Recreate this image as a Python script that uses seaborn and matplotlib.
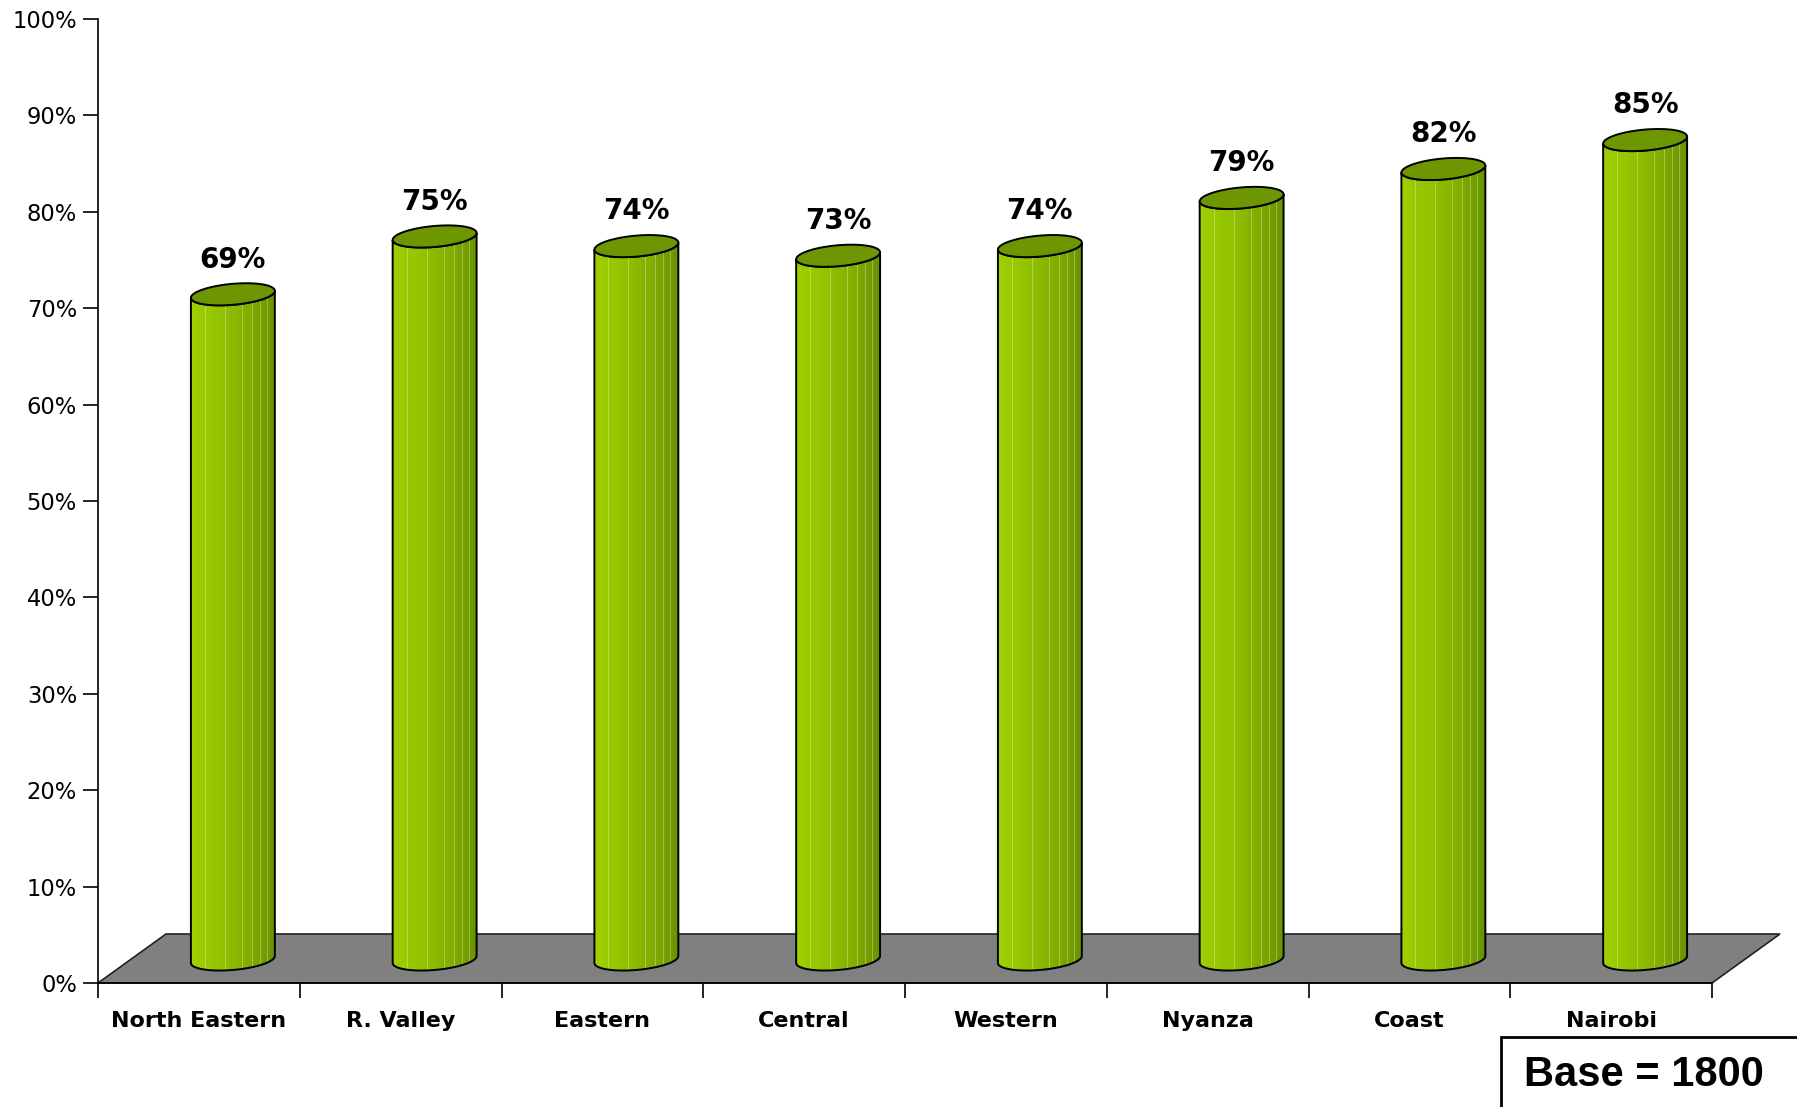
import numpy as np
import pandas as pd
import matplotlib
matplotlib.use("Agg")
import matplotlib.pyplot as plt
import seaborn as sns
from matplotlib.patches import Polygon, Rectangle
from matplotlib.colors import to_rgb

# ---- data ----
regions = ["North Eastern", "R. Valley", "Eastern", "Central", "Western",
           "Nyanza", "Coast", "Nairobi"]
values = [69, 75, 74, 73, 74, 79, 82, 85]
y_ticks = [0, 10, 20, 30, 40, 50, 60, 70, 80, 90, 100]
base_note = "Base = 1800"

sns.set_theme(style="white")
plt.rcParams['font.family'] = ['DejaVu Sans']

W, H = 1797, 1107
fig = plt.figure(figsize=(W / 100, H / 100), dpi=100)
ax_l, ax_r, ax_t, ax_b = 98, 1712, 19, 983
ax = fig.add_axes([ax_l / W, 1 - ax_b / H, (ax_r - ax_l) / W, (ax_b - ax_t) / H])

df = pd.DataFrame({"region": regions, "value": values})
sns.barplot(data=df, x="region", y="value", order=regions, width=0.416,
            color="#8fbf00", errorbar=None, ax=ax)

n = len(regions)
px_x = (ax_r - ax_l) / n      # pixels per category unit
px_y = (ax_b - ax_t) / 100.0  # pixels per percent
depth_dx = 68 / px_x
depth_dy = 49 / px_y

# floor
floor = Polygon([(-0.5, 0), (n - 0.5, 0), (n - 0.5 + depth_dx, depth_dy),
                 (-0.5 + depth_dx, depth_dy)], closed=True,
                facecolor="#808080", edgecolor="#222222", lw=1.2,
                clip_on=False, zorder=1)
ax.add_patch(floor)

# gradient for cylinder sides
ncol = 84
stops = [(0.0, to_rgb("#9fd000")), (0.35, to_rgb("#93c300")),
         (0.7, to_rgb("#82ad00")), (1.0, to_rgb("#689300"))]
grad = np.zeros((1, ncol, 3))
for i in range(ncol):
    f = i / (ncol - 1)
    for (f0, c0), (f1, c1) in zip(stops[:-1], stops[1:]):
        if f0 <= f <= f1:
            u = (f - f0) / (f1 - f0)
            grad[0, i] = np.array(c0) * (1 - u) + np.array(c1) * u
            break
for f in [0.18, 0.42, 0.62, 0.74, 0.84, 0.92]:
    i = int(f * (ncol - 1))
    grad[0, i] = grad[0, i] * 0.7 + 0.3

b_px, k_px = 10.5, 3.5
bb = b_px / px_y
kk = k_px / px_y

bars = [p for p in ax.patches if isinstance(p, Rectangle)]
for p, v in zip(bars, values):
    x0, w, h = p.get_x(), p.get_width(), p.get_height()
    p.set_visible(False)
    a = w / 2
    cx = x0 + a + depth_dx / 2
    base = depth_dy / 2 - 0.1
    top = base + h

    t_low = np.linspace(np.pi, 2 * np.pi, 40)
    bx = cx + a * np.cos(t_low)
    by = base + bb * np.sin(t_low) + kk * np.cos(t_low)
    t_top = np.linspace(2 * np.pi, np.pi, 40)
    tx = cx + a * np.cos(t_top)
    ty = top + bb * np.sin(t_top) + kk * np.cos(t_top)
    side = Polygon(np.column_stack([np.r_[bx, tx], np.r_[by, ty]]), closed=True,
                   facecolor="none", edgecolor="black", lw=1.4, zorder=4)
    ax.add_patch(side)
    im = ax.imshow(grad, extent=[cx - a, cx + a, base - 2, top + 2],
                   aspect="auto", interpolation="nearest", zorder=3)
    im.set_clip_path(side)

    t_all = np.linspace(0, 2 * np.pi, 80)
    ex = cx + a * np.cos(t_all)
    ey = top + bb * np.sin(t_all) + kk * np.cos(t_all)
    topface = Polygon(np.column_stack([ex, ey]), closed=True,
                      facecolor="#6e9600", edgecolor="black", lw=1.4, zorder=5)
    ax.add_patch(topface)

    ax.text(cx, top + 3.6, f"{v}%", ha="center", va="center",
            fontsize=20, fontweight="bold", color="black", zorder=6)

ax.set_xlim(-0.5, n - 0.5)
ax.set_ylim(0, 100)
ax.set_xlabel("")
ax.set_ylabel("")

for s in ["top", "right"]:
    ax.spines[s].set_visible(False)
for s in ["left", "bottom"]:
    ax.spines[s].set_color("black")
    ax.spines[s].set_linewidth(1.2)

ax.set_yticks(y_ticks)
ax.set_yticklabels([f"{t}%" for t in y_ticks])
ax.tick_params(axis="y", left=True, length=10.8, width=1.2, color="black",
               direction="out", pad=4.3, labelsize=16.3, labelcolor="black")

ax.set_xticks(np.arange(-0.5, n, 1))
ax.set_xticklabels([""] * (n + 1))
ax.set_xticks(np.arange(n), minor=True)
ax.set_xticklabels(regions, minor=True, fontweight="bold")
ax.tick_params(axis="x", which="major", bottom=True, length=10.8, width=1.2,
               color="black", direction="out")
ax.tick_params(axis="x", which="minor", bottom=True, length=0, pad=20,
               labelsize=16, labelcolor="black")

# base note box
fig.patches.append(Rectangle((1501 / W, -0.02), 1.0, (H - 1037) / H + 0.02,
                             transform=fig.transFigure, fill=False,
                             edgecolor="black", lw=2))
fig.text(1644 / W, 1 - 1075 / H, base_note, ha="center", va="center",
         fontsize=30, fontweight="bold", color="black",
         family=["Liberation Sans", "DejaVu Sans"])

fig.savefig("out.png", dpi=100)
